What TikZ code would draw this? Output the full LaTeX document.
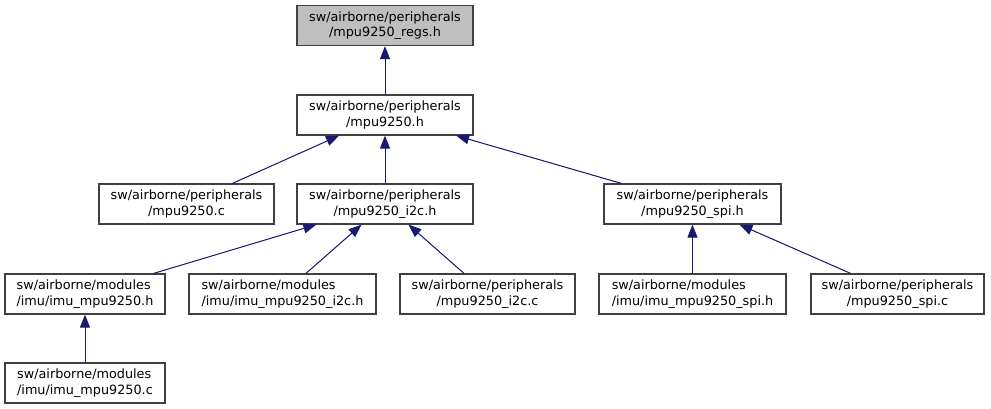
\documentclass[tikz,border=0pt]{standalone}
\usepackage{fontspec}
\setmainfont{DejaVu Sans}
\usetikzlibrary{arrows.meta}
\definecolor{edgecol}{HTML}{191970}
\definecolor{boxline}{HTML}{404040}
\definecolor{boxfill}{HTML}{BFBFBF}
\begin{document}
\begin{tikzpicture}[x=1pt,y=-1pt,
  box/.style={draw=boxline,line width=1.2pt,fill=white,minimum height=40pt,inner sep=0pt,
    font=\fontsize{12.8}{15.6}\selectfont},
  cbox/.style={box,align=center},
  lbox/.style={box,align=left},
  cur/.style={fill=boxfill},
  edge/.style={draw=edgecol,line width=1pt,-{Triangle[length=13pt,width=10pt]},fill=edgecol}]
\useasboundingbox (0,0) rectangle (991,409);
\fill[white] (0,0) rectangle (991,409);
\node[cbox,cur,minimum width=176pt] (regs) at (385,25.5) {sw/airborne/peripherals\\/mpu9250\_regs.h};
\node[cbox,minimum width=176pt] (h) at (385,115) {sw/airborne/peripherals\\/mpu9250.h};
\node[cbox,minimum width=175pt] (c) at (186.5,204) {sw/airborne/peripherals\\/mpu9250.c};
\node[cbox,minimum width=176pt] (i2ch) at (385,204) {sw/airborne/peripherals\\/mpu9250\_i2c.h};
\node[cbox,minimum width=177pt] (spih) at (692.5,204) {sw/airborne/peripherals\\/mpu9250\_spi.h};
\node[lbox,minimum width=160pt] (imuh) at (85,294) {sw/airborne/modules\\/imu/imu\_mpu9250.h};
\node[lbox,minimum width=187pt] (imui2ch) at (282.5,294) {sw/airborne/modules\\/imu/imu\_mpu9250\_i2c.h};
\node[cbox,minimum width=175pt] (i2cc) at (487.5,294) {sw/airborne/peripherals\\/mpu9250\_i2c.c};
\node[lbox,minimum width=187pt] (imuspih) at (692.5,294) {sw/airborne/modules\\/imu/imu\_mpu9250\_spi.h};
\node[cbox,minimum width=173pt] (spic) at (897.5,294) {sw/airborne/peripherals\\/mpu9250\_spi.c};
\node[lbox,minimum width=160pt] (imuc) at (85,383) {sw/airborne/modules\\/imu/imu\_mpu9250.c};
\draw[edge] (h) -- (regs);
\draw[edge] (c) -- (h);
\draw[edge] (i2ch) -- (h);
\draw[edge] (spih) -- (h);
\draw[edge] (imuh) -- (i2ch);
\draw[edge] (imui2ch) -- (i2ch);
\draw[edge] (i2cc) -- (i2ch);
\draw[edge] (imuspih) -- (spih);
\draw[edge] (spic) -- (spih);
\draw[edge] (imuc) -- (imuh);
\end{tikzpicture}
\end{document}
